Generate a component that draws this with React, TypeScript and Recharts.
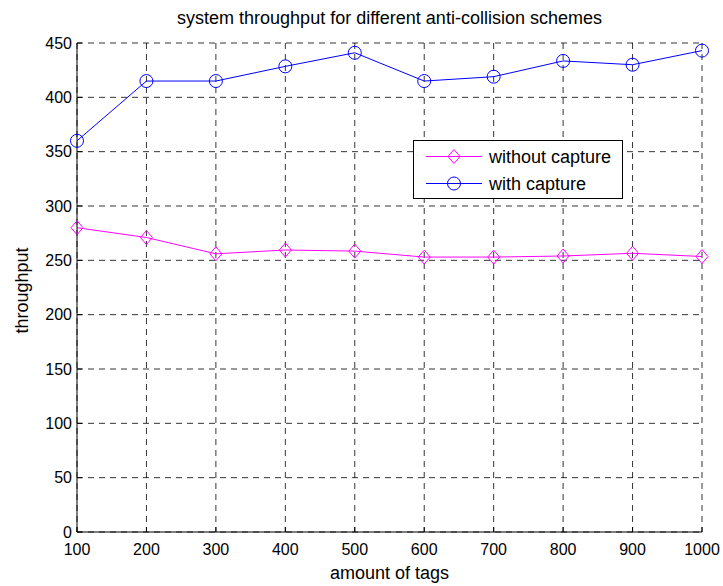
import React from 'react';
import { LineChart, Line, XAxis, YAxis, CartesianGrid, Legend } from 'recharts';

const tags = [100, 200, 300, 400, 500, 600, 700, 800, 900, 1000];
const withoutCapture = [280, 271, 256, 259.5, 258.5, 253, 253, 254, 256.5, 253.5];
const withCapture = [360, 415, 415, 428.5, 441, 415, 419, 433.5, 430, 443];
const yTicks = [0, 50, 100, 150, 200, 250, 300, 350, 400, 450];

const data = tags.map((t, i) => ({ tags: t, without: withoutCapture[i], with: withCapture[i] }));

const FONT = '"Liberation Sans", Arial, Helvetica, sans-serif';
const PINK = '#ff00ff';
const BLUE = '#0000ff';
const TICK_LEN = 5;

const Diamond = ({ cx, cy, stroke }: any) => {
  if (cx == null || cy == null) return null;
  return (
    <polygon
      points={`${cx},${cy - 7} ${cx + 6},${cy} ${cx},${cy + 7} ${cx - 6},${cy}`}
      fill="none"
      stroke={stroke}
      strokeWidth={1}
    />
  );
};

const Circle = ({ cx, cy, stroke }: any) => {
  if (cx == null || cy == null) return null;
  return <circle cx={cx} cy={cy} r={6.5} fill="none" stroke={stroke} strokeWidth={1} />;
};

// ticks point inward, like matlab
const BottomTick = ({ x, y, payload }: any) => (
  <g>
    <line x1={x} y1={y - 6} x2={x} y2={y - 6 - TICK_LEN} stroke="#000" />
    <text x={x} y={y + 5} dy="0.72em" textAnchor="middle" fontSize={16} fontFamily={FONT} fill="#000">
      {payload.value}
    </text>
  </g>
);

const LeftTick = ({ x, y, payload }: any) => (
  <g>
    <line x1={x + 6} y1={y} x2={x + 6 + TICK_LEN} y2={y} stroke="#000" />
    <text x={x + 1} y={y} dy="0.36em" textAnchor="end" fontSize={16} fontFamily={FONT} fill="#000">
      {payload.value}
    </text>
  </g>
);

const TopTick = ({ x, y }: any) => <line x1={x} y1={y} x2={x} y2={y + TICK_LEN} stroke="#000" />;
const RightTick = ({ x, y }: any) => <line x1={x} y1={y} x2={x - TICK_LEN} y2={y} stroke="#000" />;

const YLabel = ({ viewBox }: any) => {
  const cy = viewBox.y + viewBox.height / 2 + 3;
  return (
    <text
      x={28}
      y={cy}
      transform={`rotate(-90, 28, ${cy})`}
      textAnchor="middle"
      fontSize={18}
      fontFamily={FONT}
      fill="#000"
    >
      throughput
    </text>
  );
};

const legendItems = [
  { name: 'without capture', color: PINK, marker: 'diamond' },
  { name: 'with capture', color: BLUE, marker: 'circle' },
];

const renderLegend = () => (
  <svg width={210} height={59} style={{ display: 'block' }}>
    <rect x={0.5} y={0.5} width={209} height={58} fill="#fff" stroke="#000" />
    {legendItems.map((item, i) => {
      const ly = 16.5 + i * 27;
      return (
        <g key={item.name}>
          <line x1={13} y1={ly} x2={69} y2={ly} stroke={item.color} />
          {item.marker === 'diamond' ? (
            <Diamond cx={41} cy={ly} stroke={item.color} />
          ) : (
            <Circle cx={41} cy={ly} stroke={item.color} />
          )}
          <text x={76} y={ly + 6} fontSize={18} fontFamily={FONT} fill="#000">
            {item.name}
          </text>
        </g>
      );
    })}
  </svg>
);

export default function App() {
  return (
    <div style={{ position: 'absolute', left: 0, top: 0, width: 723, height: 586, background: '#fff' }}>
      <div
        style={{
          position: 'absolute',
          left: 77,
          top: 7,
          width: 625,
          textAlign: 'center',
          fontFamily: FONT,
          fontSize: 18,
          lineHeight: '22px',
          color: '#000',
        }}
      >
        system throughput for different anti-collision schemes
      </div>
      <LineChart width={723} height={586} data={data} margin={{ top: 43, right: 21, left: 0, bottom: 0 }}>
        <CartesianGrid stroke="#000" strokeDasharray="6 5" strokeWidth={0.8} />
        <XAxis
          dataKey="tags"
          type="number"
          domain={[100, 1000]}
          ticks={tags}
          height={54}
          tickSize={0}
          tickMargin={6}
          tickLine={false}
          tick={<BottomTick />}
          axisLine={{ stroke: '#000' }}
          label={{ value: 'amount of tags', position: 'insideBottom', offset: 7, fontSize: 18, fontFamily: FONT, fill: '#000' }}
        />
        <XAxis
          xAxisId="top"
          orientation="top"
          dataKey="tags"
          type="number"
          domain={[100, 1000]}
          ticks={tags}
          height={0}
          tickSize={0}
          tickMargin={0}
          tickLine={false}
          tick={<TopTick />}
          axisLine={{ stroke: '#000' }}
        />
        <YAxis
          type="number"
          domain={[0, 450]}
          ticks={yTicks}
          width={77}
          tickSize={0}
          tickMargin={6}
          tickLine={false}
          tick={<LeftTick />}
          axisLine={{ stroke: '#000' }}
          label={<YLabel />}
        />
        <YAxis
          yAxisId="right"
          orientation="right"
          type="number"
          domain={[0, 450]}
          ticks={yTicks}
          width={0}
          tickSize={0}
          tickMargin={0}
          tickLine={false}
          tick={<RightTick />}
          axisLine={{ stroke: '#000' }}
        />
        <Legend
          layout="horizontal"
          verticalAlign="middle"
          align="center"
          content={renderLegend}
          wrapperStyle={{ left: 413, top: 140, width: 210, height: 59 }}
        />
        <Line
          dataKey="without"
          name="without capture"
          stroke={PINK}
          strokeWidth={1}
          dot={<Diamond stroke={PINK} />}
          activeDot={false}
          isAnimationActive={false}
        />
        <Line
          dataKey="with"
          name="with capture"
          stroke={BLUE}
          strokeWidth={1}
          dot={<Circle stroke={BLUE} />}
          activeDot={false}
          isAnimationActive={false}
        />
      </LineChart>
    </div>
  );
}
